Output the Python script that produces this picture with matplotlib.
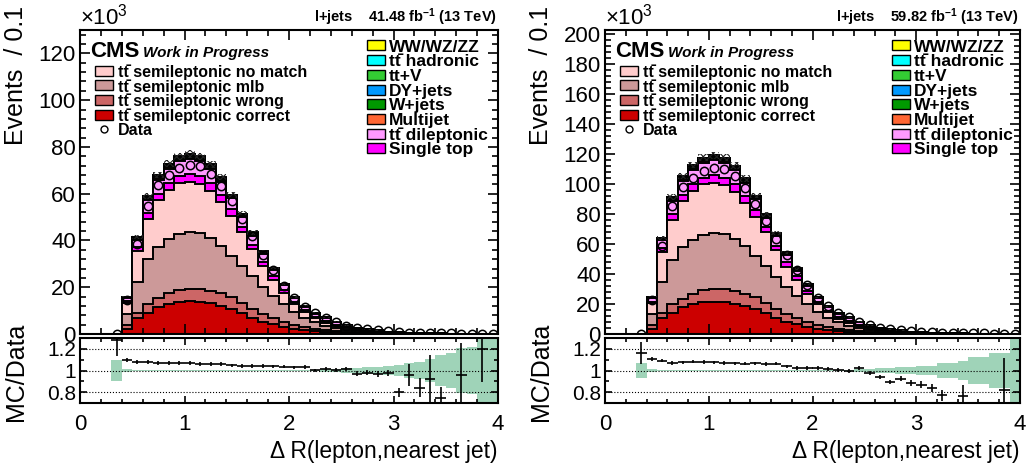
import numpy as np
import matplotlib
matplotlib.use("Agg")
import matplotlib.pyplot as plt
from matplotlib.patches import Rectangle
from matplotlib.lines import Line2D
from matplotlib.ticker import MultipleLocator, FuncFormatter

plt.rcParams['font.family'] = ['Liberation Sans', 'DejaVu Sans']
plt.rcParams['mathtext.fontset'] = 'custom'
plt.rcParams['mathtext.rm'] = 'Liberation Sans'
plt.rcParams['mathtext.bf'] = 'Liberation Sans:bold'
plt.rcParams['mathtext.it'] = 'Liberation Sans:italic'
plt.rcParams['hatch.linewidth'] = 0.8

# binning: DeltaR(lepton, nearest jet), 40 bins of 0.1
edges = np.round(np.linspace(0, 4, 41), 2)
centers = 0.5 * (edges[1:] + edges[:-1])

# ---- 41.48 fb-1 (left), values in 10^3 events ----
corr_l = [0, 0, 0, .02, 2.1, 6.7, 9.1, 11.4, 12.7, 13.6, 14.0, 13.7, 13.1, 12.1, 10.7, 8.9, 6.7, 5.3, 4.1, 3.1,
          2.3, 1.7, 1.3, 1.0, .7, .5, .35, .25, .18, .12, .09, .07, .05, .04, .03, .02, .02, .015, .01, .008]
wrong_l = [0, 0, 0, .01, 1.8, 2.4, 3.7, 3.9, 4.7, 5.2, 5.4, 5.6, 5.5, 5.3, 5.0, 4.5, 3.9, 3.3, 2.9, 2.2,
           1.7, 1.3, .8, .6, .4, .3, .2, .15, .12, .08, .06, .04, .03, .02, .02, .02, .01, .005, .005, .004]
mlb_l = [0, 0, 0, .03, 4.5, 13.3, 19.3, 22.1, 23.3, 23.9, 24.1, 23.8, 22.5, 20.3, 17.8, 15.7, 14.0, 11.7, 9.4, 7.5,
         5.6, 4.0, 2.9, 1.8, 1.3, .9, .55, .4, .3, .22, .15, .11, .08, .06, .04, .03, .02, .02, .015, .013]
nomatch_l = [0, 0, 0, .05, 4.7, 12.9, 17.2, 20.0, 21.0, 21.8, 21.4, 21.2, 20.1, 18.8, 17.0, 14.7, 11.7, 8.8, 6.7, 4.6,
             3.2, 2.3, 1.7, 1.5, 1.1, .7, .6, .45, .35, .23, .16, .12, .10, .08, .06, .04, .04, .03, .02, .015]
single_l = [0, 0, 0, .01, .8, 1.8, 2.4, 2.6, 2.8, 2.9, 3.5, 3.1, 3.3, 3.0, 3.0, 2.1, 1.8, 1.8, 1.6, 1.3,
            1.0, .8, .7, .6, .5, .4, .25, .2, .15, .13, .09, .07, .05, .04, .03, .03, .02, .015, .015, .01]
dilep_l = [0, 0, 0, .015, 1.58, 3.3, 5.5, 6.0, 6.2, 6.45, 6.45, 6.45, 6.0, 5.6, 4.5, 4.2, 4.0, 3.3, 2.6, 2.1,
           1.5, 1.4, 1.3, 1.2, 1.0, .64, .45, .38, .3, .2, .15, .105, .08, .06, .05, .04, .03, .027, .02, .015]
multijet_l = [0, 0, 0, .003, .15, .31, .5, .56, .59, .6, .6, .6, .56, .53, .42, .39, .36, .31, .25, .2,
              .14, .14, .11, .11, .08, .06, .04, .03, .03, .02, .014, .01, .008, .006, .006, .003, .003, .002, .001, .001]
wjets_l = [0, 0, 0, .003, .17, .35, .58, .64, .67, .69, .69, .69, .64, .61, .48, .45, .42, .35, .29, .22,
           .16, .16, .13, .13, .1, .07, .05, .04, .03, .02, .016, .011, .01, .006, .006, .003, .003, .003, .002, .002]
dy_l = [0, 0, 0, .001, .06, .13, .22, .24, .25, .26, .26, .26, .24, .23, .18, .17, .16, .13, .11, .08,
        .06, .06, .05, .05, .04, .025, .018, .014, .012, .008, .006, .004, .004, .002, .002, .001, .001, .001, .001, .001]
ttv_l = [0, 0, 0, .001, .06, .13, .22, .24, .25, .26, .26, .26, .24, .23, .18, .17, .16, .13, .11, .08,
         .06, .06, .05, .05, .04, .025, .018, .014, .012, .008, .006, .004, .004, .002, .002, .001, .001, .001, .001, .001]
tthad_l = [0, 0, 0, .001, .05, .11, .18, .2, .21, .22, .22, .22, .2, .19, .15, .14, .13, .11, .09, .07,
           .05, .05, .04, .04, .03, .02, .015, .012, .01, .007, .005, .004, .003, .002, .002, .001, .001, .001, .001, .001]
vv_l = [0, 0, 0, 0, .03, .07, .11, .12, .13, .13, .13, .13, .12, .11, .09, .08, .08, .07, .05, .04,
        .03, .03, .02, .02, .02, .01, .01, .007, .006, .004, .003, .002, .002, .001, .001, .001, .001, .001, .001, .001]
data_l = [0, 0, 0, .112, 14.64, 38.43, 54.63, 63.67, 68.04, 71.03, 72.10, 71.70, 68.40, 63.09, 56.83, 49.38, 41.73,
          33.84, 27.19, 20.73, 15.37, 11.67, 9.10, 7.03, 5.30, 3.61, 2.63, 1.99, 1.546, 1.074, .9375, .575, .500,
          .346, .333, .317, .157, .20, .077, .127]
ratio_err_l = [0, 0, 0, .15, .018, .016, .016, .016, .016, .016, .016, .016, .016, .016, .016, .016, .016, .016, .016, .017,
               .017, .018, .018, .018, .019, .02, .022, .024, .026, .03, .04, .10, .085, .22, .10, .2, .3, .3, .3, .3]
mc_unc_l = [0, 0, 0, .10, .01, .006, .004, .004, .003, .003, .003, .003, .003, .003, .003, .003, .004, .004, .004, .005,
            .005, .005, .008, .01, .015, .02, .025, .03, .035, .045, .05, .065, .08, .11, .14, .16, .21, .22, .35, .35]

# ---- 59.82 fb-1 (right) ----
corr_r = [0, 0, 0, .03, 3.3, 10.4, 14.1, 17.7, 19.7, 21.1, 21.7, 21.2, 20.3, 18.8, 16.6, 13.8, 10.4, 8.2, 6.4, 4.8,
          3.6, 2.6, 2.0, 1.55, 1.1, .78, .54, .39, .28, .19, .14, .11, .08, .06, .05, .03, .03, .023, .016, .012]
wrong_r = [0, 0, 0, .015, 2.8, 3.7, 5.7, 6.0, 7.3, 8.1, 8.4, 8.7, 8.5, 8.2, 7.8, 7.0, 6.0, 5.1, 4.5, 3.4,
           2.6, 2.0, 1.24, .93, .62, .47, .31, .23, .19, .12, .09, .06, .05, .03, .03, .03, .015, .008, .008, .006]
mlb_r = [0, 0, 0, .05, 7.0, 20.6, 29.9, 34.3, 36.1, 37.0, 37.4, 36.9, 34.9, 31.5, 27.6, 24.3, 21.7, 18.1, 14.6, 11.6,
         8.7, 6.2, 4.5, 2.8, 2.0, 1.4, .85, .62, .47, .34, .23, .17, .12, .09, .06, .05, .03, .03, .023, .02]
nomatch_r = [0, 0, 0, .08, 7.3, 20.0, 26.7, 31.0, 32.6, 33.8, 33.2, 32.9, 31.2, 29.1, 26.4, 22.8, 18.1, 13.6, 10.4, 7.1,
             5.0, 3.6, 2.6, 2.3, 1.7, 1.1, .93, .7, .54, .36, .25, .19, .16, .12, .09, .06, .06, .05, .03, .023]
single_r = [0, 0, 0, .015, 1.24, 2.8, 3.7, 4.0, 4.3, 4.5, 5.4, 4.8, 5.1, 4.65, 4.65, 3.3, 2.8, 2.8, 2.5, 2.0,
            1.55, 1.24, 1.1, .93, .78, .62, .39, .31, .23, .2, .14, .11, .08, .06, .05, .05, .03, .023, .023, .016]
dilep_r = [0, 0, 0, .023, 2.45, 5.1, 8.5, 9.3, 9.6, 10.0, 10.0, 10.0, 9.3, 8.7, 7.0, 6.5, 6.2, 5.1, 4.0, 3.3,
           2.3, 2.2, 2.0, 1.9, 1.55, 1.0, .7, .59, .47, .31, .23, .16, .12, .09, .08, .06, .05, .04, .03, .023]
multijet_r = [0, 0, 0, .005, .23, .48, .78, .87, .91, .93, .93, .93, .87, .82, .65, .6, .56, .48, .39, .31,
              .22, .22, .17, .17, .12, .09, .06, .05, .05, .03, .022, .016, .012, .009, .009, .005, .005, .003, .002, .002]
wjets_r = [0, 0, 0, .005, .26, .54, .9, .99, 1.04, 1.07, 1.07, 1.07, .99, .95, .74, .7, .65, .54, .45, .34,
           .25, .25, .2, .2, .16, .11, .08, .06, .05, .03, .025, .017, .016, .009, .009, .005, .005, .005, .003, .003]
dy_r = [0, 0, 0, .002, .09, .2, .34, .37, .39, .4, .4, .4, .37, .36, .28, .26, .25, .2, .17, .12,
        .09, .09, .08, .08, .06, .04, .028, .022, .019, .012, .009, .006, .006, .003, .003, .002, .002, .002, .002, .002]
ttv_r = [0, 0, 0, .002, .09, .2, .34, .37, .39, .4, .4, .4, .37, .36, .28, .26, .25, .2, .17, .12,
         .09, .09, .08, .08, .06, .04, .028, .022, .019, .012, .009, .006, .006, .003, .003, .002, .002, .002, .002, .002]
tthad_r = [0, 0, 0, .002, .08, .17, .28, .31, .33, .34, .34, .34, .31, .29, .23, .22, .2, .17, .14, .11,
           .08, .08, .06, .06, .05, .03, .023, .019, .016, .011, .008, .006, .005, .003, .003, .002, .002, .002, .002, .002]
vv_r = [0, 0, 0, 0, .05, .11, .17, .19, .2, .2, .2, .2, .19, .17, .14, .12, .12, .11, .08, .06,
        .05, .05, .03, .03, .03, .016, .016, .011, .009, .006, .005, .003, .003, .002, .002, .002, .002, .002, .002, .002]
data_r = [0, 0, 0, .197, 22.55, 58.99, 85.51, 98.05, 104.4, 109.1, 111.1, 110.1, 105.5, 97.7, 86.7, 75.3, 63.2,
          52.6, 42.8, 32.5, 24.0, 18.4, 14.0, 11.1, 8.04, 5.84, 4.2, 3.39, 2.53, 1.83, 1.33, 1.02, .855, .77,
          .51, .48, .38, .32, .175, .18]
ratio_err_r = [0, 0, 0, .10, .018, .016, .016, .016, .016, .016, .016, .016, .016, .016, .016, .016, .016, .016, .016, .017,
               .017, .017, .018, .018, .018, .019, .02, .021, .022, .025, .03, .04, .05, .1, .1, .2, .2, .25, .3, .3]
mc_unc_r = [0, 0, 0, .07, .01, .005, .004, .003, .003, .003, .003, .003, .003, .003, .003, .003, .003, .004, .004, .004,
            .005, .006, .007, .008, .01, .015, .02, .025, .03, .035, .045, .045, .065, .065, .085, .125, .125, .165, .165, .35]

# stacking order bottom -> top
stack_names = ['correct', 'wrong', 'mlb', 'nomatch', 'single', 'dilep', 'multijet', 'wjets', 'dy', 'ttv', 'tthad', 'vv']
colors = {'correct': '#cc0000', 'wrong': '#cc6666', 'mlb': '#cc9999', 'nomatch': '#ffcccc',
          'single': '#ff00ff', 'dilep': '#ff99ff', 'multijet': '#ff6633', 'wjets': '#009900',
          'dy': '#0099ff', 'ttv': '#33cc33', 'tthad': '#00ffff', 'vv': '#ffff00'}

TT = 't' + 't\u0304'
leg_left = [(TT + ' semileptonic no match', 'nomatch'), (TT + ' semileptonic mlb', 'mlb'),
            (TT + ' semileptonic wrong', 'wrong'), (TT + ' semileptonic correct', 'correct')]
leg_right = [('WW/WZ/ZZ', 'vv'), (TT + ' hadronic', 'tthad'), ('tt+V', 'ttv'), ('DY+jets', 'dy'),
             ('W+jets', 'wjets'), ('Multijet', 'multijet'), (TT + ' dileptonic', 'dilep'), ('Single top', 'single')]

panels = [
    dict(x0=80, x1=498, ymax=130, lumi='41.48',
         comps=[corr_l, wrong_l, mlb_l, nomatch_l, single_l, dilep_l, multijet_l, wjets_l, dy_l, ttv_l, tthad_l, vv_l],
         data=data_l, rerr=ratio_err_l, unc=mc_unc_l),
    dict(x0=605, x1=1020, ymax=203, lumi='59.82',
         comps=[corr_r, wrong_r, mlb_r, nomatch_r, single_r, dilep_r, multijet_r, wjets_r, dy_r, ttv_r, tthad_r, vv_r],
         data=data_r, rerr=ratio_err_r, unc=mc_unc_r),
]

W, H = 1029, 465
fig = plt.figure(figsize=(W / 100, H / 100), dpi=100)


def rect(x0, x1, y0, y1):
    return [x0 / W, 1 - y1 / H, (x1 - x0) / W, (y1 - y0) / H]


def fp(x, y):
    return x / W, 1 - y / H


for p in panels:
    ax = fig.add_axes(rect(p['x0'], p['x1'], 30, 334))
    axr = fig.add_axes(rect(p['x0'], p['x1'], 338, 403))

    cums = []
    cum = np.zeros(40)
    for vals in p['comps']:
        cum = cum + np.array(vals)
        cums.append(cum.copy())
    total = cums[-1]
    for name, c in reversed(list(zip(stack_names, cums))):
        ax.stairs(c, edges, baseline=0, fill=True, facecolor=colors[name],
                  edgecolor='black', linewidth=1.4)
    # MC uncertainty hatch
    ax.stairs(total * 1.02, edges, baseline=total * 0.98, fill=True, facecolor='none',
              edgecolor='#222222', hatch='xxxxx', linewidth=0)

    data = np.array(p['data'])
    m = data > 0
    ax.plot(centers[m], data[m], 'o', mfc='none', mec='black', ms=6, mew=1.1, zorder=5)

    ax.set_xlim(0, 4)
    ax.set_ylim(0, p['ymax'])
    ax.xaxis.set_major_locator(MultipleLocator(1))
    ax.xaxis.set_minor_locator(MultipleLocator(0.2))
    ax.yaxis.set_major_locator(MultipleLocator(20))
    ax.yaxis.set_minor_locator(MultipleLocator(4))
    ax.tick_params(which='both', direction='in', top=True, right=True, labelbottom=False,
                   labelsize=16, pad=3, width=1.2)
    ax.tick_params(which='major', length=7)
    ax.tick_params(which='minor', length=4)
    for s in ax.spines.values():
        s.set_linewidth(1.5)

    # ratio panel
    unc = np.array(p['unc'])
    axr.stairs(1 + unc, edges, baseline=1 - unc, fill=True, facecolor='#9fd3b8', linewidth=0)
    for g in (0.8, 1.0, 1.2):
        axr.axhline(g, color='black', ls=':', lw=0.8, zorder=1)
    with np.errstate(divide='ignore', invalid='ignore'):
        ratio = np.where(data > 0, total / np.where(data > 0, data, 1), np.nan)
    mr = (data > 0) & (ratio >= 0.7) & (ratio <= 1.3)
    axr.errorbar(centers[mr], ratio[mr], xerr=0.05, yerr=np.array(p['rerr'])[mr], fmt='none',
                 ecolor='black', elinewidth=1.2, capsize=0, zorder=4)
    axr.set_xlim(0, 4)
    axr.set_ylim(0.7, 1.3)
    axr.xaxis.set_major_locator(MultipleLocator(1))
    axr.xaxis.set_minor_locator(MultipleLocator(0.2))
    axr.yaxis.set_major_locator(MultipleLocator(0.2))
    axr.yaxis.set_minor_locator(MultipleLocator(0.1))
    axr.yaxis.set_major_formatter(FuncFormatter(lambda v, pos: '%g' % round(v, 2)))
    axr.tick_params(which='both', direction='in', top=True, right=True, labelsize=16, width=1.2)
    axr.tick_params(axis='y', labelsize=15, pad=3)
    axr.tick_params(axis='x', pad=8)
    axr.tick_params(which='major', length=5)
    axr.tick_params(which='minor', length=3)
    for s in axr.spines.values():
        s.set_linewidth(1.5)

    x0 = p['x0']
    dx = x0 - 80
    fig.text(*fp(x0 - 64, 6), 'Events  / 0.1', rotation=90, ha='center', va='top', fontsize=18)
    fig.text(*fp(x0 - 64, 372), 'MC/Data', rotation=90, ha='center', va='center', fontsize=18)
    fig.text(*fp(p['x1'] - 1, 451), '\u0394 R(lepton,nearest jet)', ha='right', va='center', fontsize=16.5)
    fig.text(*fp(x0, 25), '\u00d710$^{3}$', ha='left', va='baseline', fontsize=16)
    fig.text(*fp(p['x1'] - 1, 17), 'l+jets    ' + p['lumi'] + r' fb$^{\mathbf{-1}}$ (13 TeV)',
             ha='right', va='center', fontsize=10.5, weight='bold')
    fig.text(*fp(90 + dx, 57), 'CMS', ha='left', va='baseline', fontsize=16, weight='bold')
    fig.text(*fp(143 + dx, 57), 'Work in Progress', ha='left', va='baseline', fontsize=11,
             weight='bold', style='italic')

    for i, (lab, key) in enumerate(leg_left):
        yc = 71 + 14.5 * i
        fig.add_artist(Rectangle(fp(95 + dx, yc + 5), 18 / W, 10 / H, transform=fig.transFigure,
                                 facecolor=colors[key], edgecolor='black', lw=1))
        fig.text(*fp(118 + dx, yc), lab, ha='left', va='center_baseline', fontsize=11.5, weight='bold')
    yc = 71 + 14.5 * 4
    fig.add_artist(Line2D([fp(104 + dx, yc)[0]], [fp(104 + dx, yc)[1]], marker='o', mfc='none', mec='black',
                          ms=5, mew=1, transform=fig.transFigure))
    fig.text(*fp(118 + dx, yc), 'Data', ha='left', va='center_baseline', fontsize=11.5, weight='bold')

    for i, (lab, key) in enumerate(leg_right):
        yc = 45.5 + 14.7 * i
        fig.add_artist(Rectangle(fp(367 + dx, yc + 5), 18 / W, 10 / H, transform=fig.transFigure,
                                 facecolor=colors[key], edgecolor='black', lw=1))
        fig.text(*fp(389 + dx, yc), lab, ha='left', va='center_baseline', fontsize=12.5, weight='bold')

fig.savefig('out.png', dpi=100)
